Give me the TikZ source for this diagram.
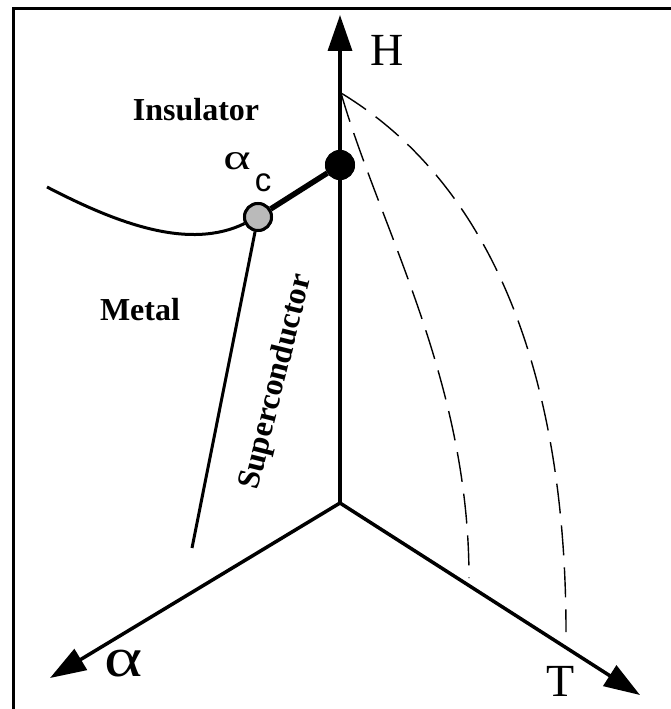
\documentclass[tikz,border=0pt]{standalone}
\usepackage{fontspec}
\setmainfont{Liberation Serif}
\newfontfamily\sansf{Liberation Sans}
\usepackage{graphicx}
\usetikzlibrary{arrows.meta}

\begin{document}
\begin{tikzpicture}[
    x=1pt, y=-1pt,
    >={Triangle[length=36pt,width=24pt]},
    axis/.style={->, line width=3.5pt},
    bound/.style={line width=3pt},
    cross/.style={dash pattern=on 30pt off 12pt, line width=1.4pt},
    phase/.style={font=\fontsize{32}{36}\selectfont\bfseries, inner sep=0pt},
    axlabel/.style={font=\fontsize{46}{50}\selectfont, inner sep=0pt},
    crit/.style={circle, draw, line width=3pt, inner sep=0pt, minimum size=27pt}
]
\useasboundingbox (0,0) rectangle (671,709);

% frame
\draw[line width=3pt] (671,9) -- (13,9) -- (13,709);

% axes
\coordinate (o) at (340,503);
\coordinate (htip) at (340,15);
\coordinate (atip) at (50,678);
\coordinate (ttip) at (640,695);

% crossover lines
\coordinate (hc) at (341,93);
\coordinate (tin) at (469,578);
\coordinate (tout) at (566,632);
\draw[cross] (hc) .. controls (380,228) and (469,380) .. (tin);
\draw[cross] (hc) .. controls (496,187) and (566,382) .. (tout);

\draw[axis] (o) -- (htip);
\draw[axis] (o) -- (atip);
\draw[axis] (o) -- (ttip);

% phase boundaries
\node[crit, fill=black] (qcp) at (340,165) {};
\node[crit, fill=black!27] (ac) at (258,217) {};
\coordinate (left) at (47,187);
\coordinate (low) at (192,548);
\draw[bound] (left) .. controls (120,225) and (190,250) .. (ac);
\draw[bound] (ac) -- (low);
\draw[line width=5.5pt] (ac) -- (qcp);
\node[crit, fill=black] at (qcp) {};
\node[crit, fill=black!27] at (ac) {};

% labels
\node[axlabel] (hl) at (387,50) {H};
\node[axlabel] (tl) at (561,681) {T};
\node[axlabel] (al) at (124,664) {\fontsize{56}{60}\selectfont\scalebox{1.3}[1]{α}};
\node[inner sep=0pt] (acl) at (237,161) {\fontsize{36}{40}\selectfont\scalebox{1.45}[1]{α}};
\node[inner sep=0pt] (acs) at (263,183) {\sansf\fontsize{33}{36}\selectfont c};

\node[phase] (ins) at (196,110) {Insulator};
\node[phase] (met) at (140,310) {Metal};
\node[phase, rotate=76] (sc) at (277,382) {Superconductor};

\end{tikzpicture}
\end{document}
